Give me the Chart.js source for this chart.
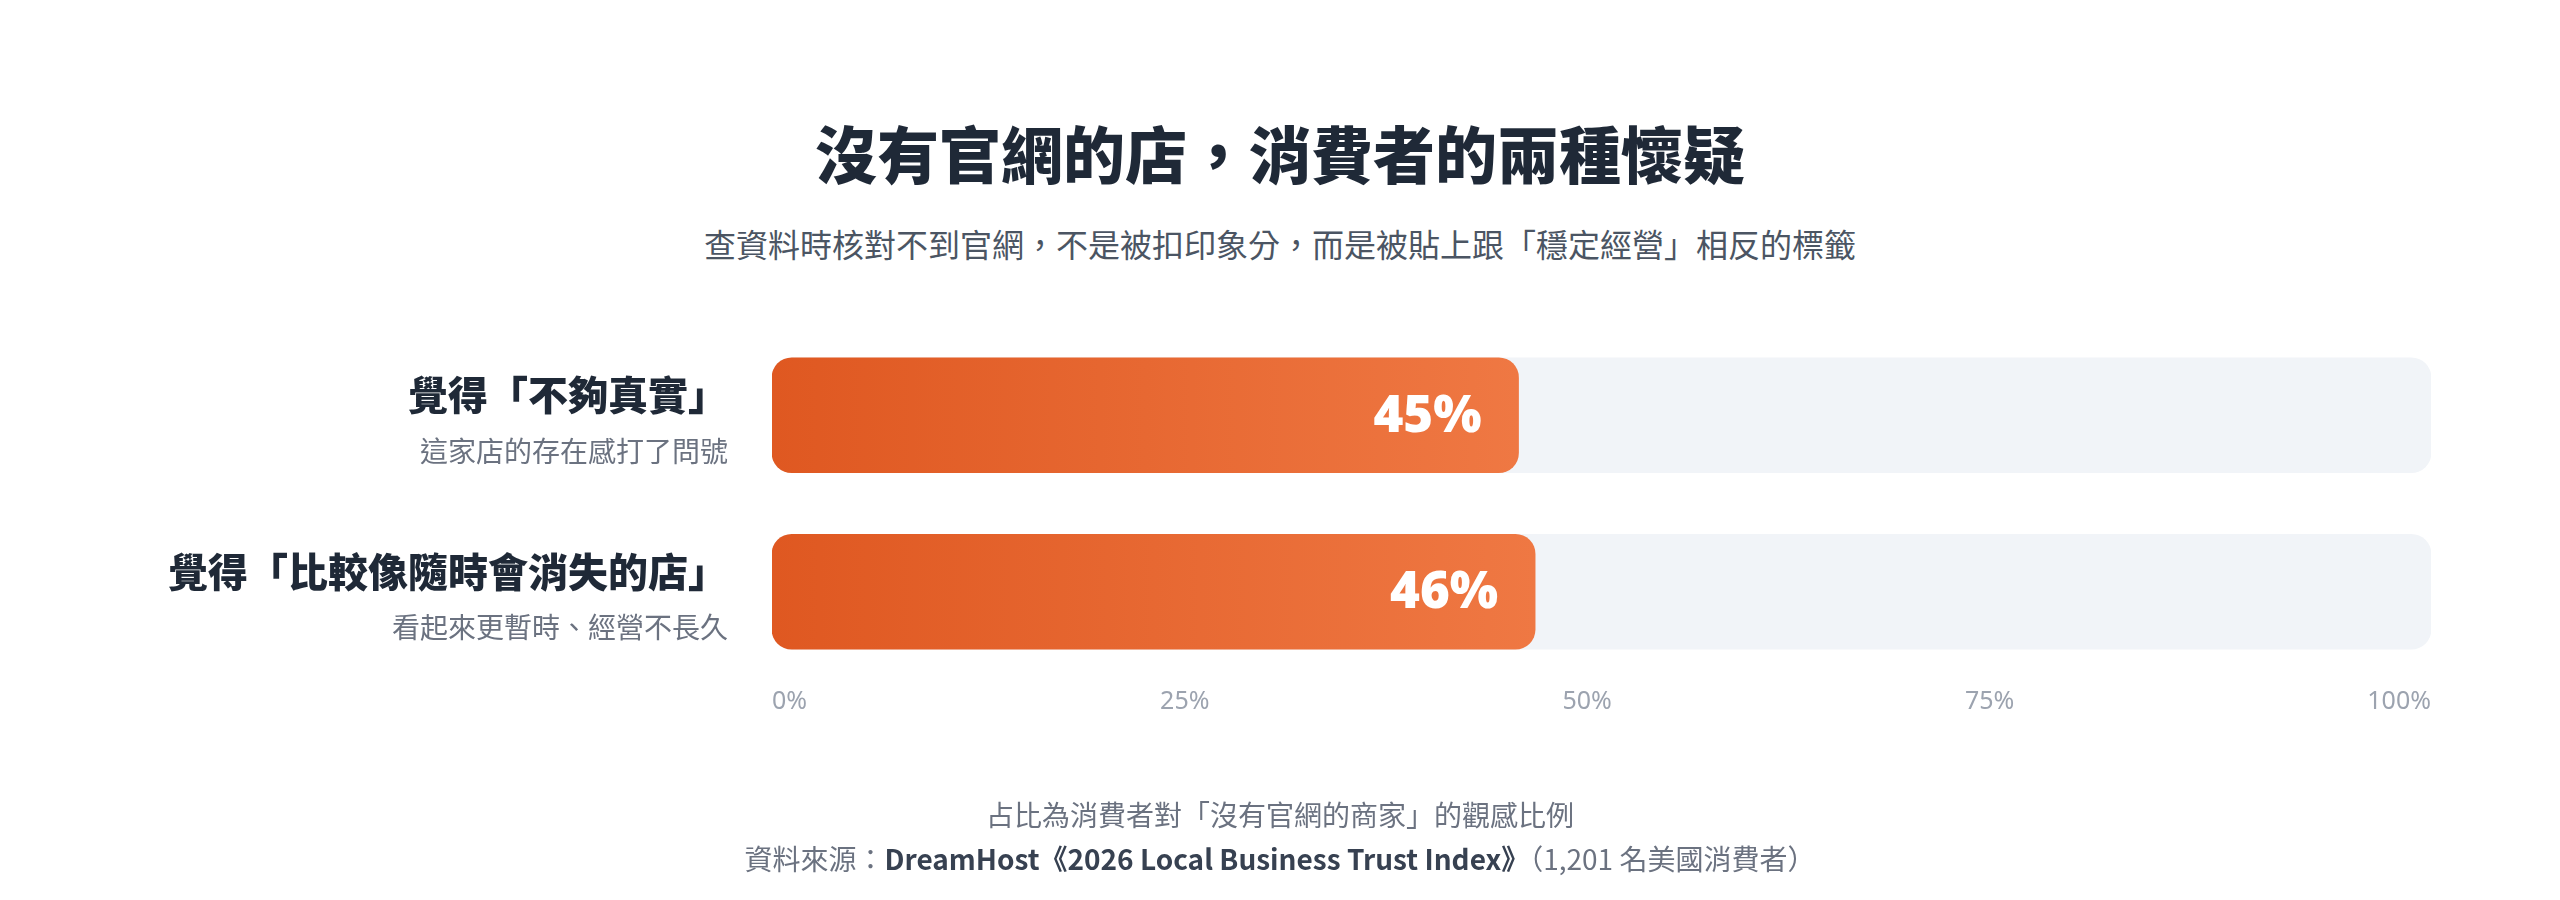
<!DOCTYPE html>
<html lang="zh-Hant">
<head>
<meta charset="utf-8">
<title>沒有官網的店，消費者的兩種懷疑</title>
<script src="https://cdn.jsdelivr.net/npm/chart.js@4.4.1/dist/chart.umd.min.js"></script>
<style>
  html, body { margin: 0; padding: 0; background: #ffffff; }
  body { width: 2560px; height: 900px; position: relative; overflow: hidden; font-family: "Noto Sans CJK TC", "Noto Sans", sans-serif; }
  #chartWrap { position: absolute; left: 0; top: 0; width: 2560px; height: 900px; }
  .txt { position: absolute; left: 0; width: 2560px; text-align: center; white-space: nowrap; }
  #title { top: 112px; font-size: 62px; line-height: 80px; font-weight: 900; color: #1f2937; }
  #subtitle { top: 223px; font-size: 32px; line-height: 40px; color: #4b5563; }
  #note { top: 796px; font-size: 28px; line-height: 36px; color: #6b7280; }
  #source { top: 840px; font-size: 28px; line-height: 36px; color: #6b7280; }
  #source b { color: #374151; font-weight: 700; }
</style>
</head>
<body>
<div id="title" class="txt">沒有官網的店，消費者的兩種懷疑</div>
<div id="subtitle" class="txt">查資料時核對不到官網，不是被扣印象分，而是被貼上跟「穩定經營」相反的標籤</div>
<div id="chartWrap"><canvas id="c" width="2560" height="900"></canvas></div>
<div id="note" class="txt">占比為消費者對「沒有官網的商家」的觀感比例</div>
<div id="source" class="txt">資料來源：<b>DreamHost《2026 Local Business Trust Index》</b>（1,201 名美國消費者）</div>
<script>
const categories = ['覺得「不夠真實」', '覺得「比較像隨時會消失的店」'];
const subLabels = ['這家店的存在感打了問號', '看起來更暫時、經營不長久'];
const values = [45, 46];
const trackValues = [100, 100];
const tickValues = [0, 25, 50, 75, 100];
const tickLabels = ['0%', '25%', '50%', '75%', '100%'];

const CJK = '"Noto Sans CJK TC", "Noto Sans", sans-serif';
const TICK_FONT = '400 25px "Noto Sans", sans-serif';

function barGradient(context) {
  const chart = context.chart;
  const area = chart.chartArea;
  if (!area || !chart.scales.x) return '#E5602A';
  const v = context.parsed ? context.parsed.x : values[context.dataIndex];
  const endX = chart.scales.x.getPixelForValue(v);
  const g = chart.ctx.createLinearGradient(area.left, 0, Math.max(endX, area.left + 1), 0);
  g.addColorStop(0, '#DF5821');
  g.addColorStop(1, '#EF7843');
  return g;
}

const labelPlugin = {
  id: 'sideLabels',
  afterDatasetsDraw(chart) {
    const ctx = chart.ctx;
    const yScale = chart.scales.y;
    const xScale = chart.scales.x;
    const meta = chart.getDatasetMeta(0);
    ctx.save();
    categories.forEach((cat, i) => {
      const yc = yScale.getPixelForValue(i);
      const x = chart.chartArea.left - 44;
      ctx.textAlign = 'right';
      ctx.textBaseline = 'middle';
      ctx.fillStyle = '#1f2937';
      ctx.font = '900 40px ' + CJK;
      ctx.fillText(cat, x, yc - 20);
      ctx.fillStyle = '#6b7280';
      ctx.font = '400 28px ' + CJK;
      ctx.fillText(subLabels[i], x, yc + 36);
      const bar = meta.data[i];
      ctx.fillStyle = '#ffffff';
      ctx.font = '900 51px "Noto Sans", sans-serif';
      ctx.textAlign = 'right';
      ctx.fillText(values[i] + '%', bar.x - 37, bar.y + 2);
    });
    // axis labels spread like space-between across the scale extent
    const left = xScale.getPixelForValue(tickValues[0]);
    const right = xScale.getPixelForValue(tickValues[tickValues.length - 1]);
    ctx.font = TICK_FONT;
    const widths = tickLabels.map(t => ctx.measureText(t).width);
    const total = widths.reduce((a, b) => a + b, 0);
    const gap = (right - left - total) / (tickLabels.length - 1);
    let cx = left;
    ctx.fillStyle = '#9ca3af';
    ctx.textAlign = 'left';
    ctx.textBaseline = 'middle';
    const ty = chart.chartArea.bottom + 22;
    tickLabels.forEach((t, i) => {
      ctx.fillText(t, cx, ty);
      cx += widths[i] + gap;
    });
    ctx.restore();
  }
};

new Chart(document.getElementById('c'), {
  type: 'bar',
  data: {
    labels: categories,
    datasets: [
      {
        label: '占比',
        data: values,
        backgroundColor: barGradient,
        borderRadius: 20,
        borderSkipped: false,
        barThickness: 115,
        grouped: false,
        order: 0
      },
      {
        label: 'track',
        data: trackValues,
        backgroundColor: '#F1F4F8',
        borderRadius: 20,
        borderSkipped: false,
        barThickness: 115,
        grouped: false,
        order: 1
      }
    ]
  },
  options: {
    indexAxis: 'y',
    responsive: false,
    animation: false,
    devicePixelRatio: 1,
    layout: { padding: { left: 772, right: 129, top: 327, bottom: 180 } },
    plugins: { legend: { display: false }, tooltip: { enabled: false }, title: { display: false } },
    scales: {
      y: { display: false, offset: true },
      x: {
        min: 0, max: 100,
        afterBuildTicks(scale) { scale.ticks = tickValues.map(v => ({ value: v })); },
        afterFit(scale) { scale.height = 40; },
        grid: { display: false, drawTicks: false },
        border: { display: false },
        ticks: { display: false }
      }
    }
  },
  plugins: [labelPlugin]
});
</script>
</body>
</html>
